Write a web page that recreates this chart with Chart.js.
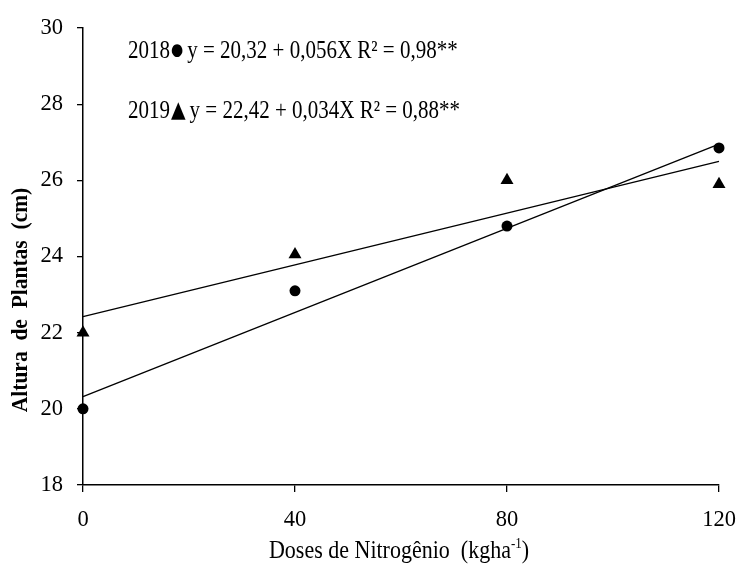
<!DOCTYPE html>
<html>
<head>
<meta charset="utf-8">
<script src="https://cdn.jsdelivr.net/npm/chart.js@4.4.1/dist/chart.umd.min.js"></script>
<style>
  html, body { margin: 0; padding: 0; background: #ffffff; }
  #wrap { width: 739px; height: 567px; position: relative; }
</style>
</head>
<body>
<div id="wrap"><canvas id="c" width="739" height="567"></canvas></div>
<script>
// ---- data ----
const doses = [0, 40, 80, 120];
const altura2018 = [20.0, 23.1, 24.8, 26.85];
const altura2019 = [22.0, 24.05, 26.0, 25.9];
const trendX = [0, 120];
const trend2018 = [20.32, 26.95];
const trend2019 = [22.42, 26.5];
const xTicks = [0, 40, 80, 120];
const yTicks = [18, 20, 22, 24, 26, 28, 30];
const eq2018 = { year: '2018', symbol: '●', text: 'y = 20,32 + 0,056X R² = 0,98**' };
const eq2019 = { year: '2019', symbol: '▲', text: 'y = 22,42 + 0,034X R² = 0,88**' };
const yTitle = 'Altura  de  Plantas  (cm)';
const xTitle = 'Doses de Nitrogênio  (kgha';
const xTitleSup = '-1';

const pts = (xs, ys) => xs.map((x, i) => ({ x: x, y: ys[i] }));
const SERIF = '"Liberation Serif", "Times New Roman", serif';

const textPlugin = {
  id: 'texts',
  afterDraw(chart) {
    const ctx = chart.ctx;
    ctx.save();
    ctx.fillStyle = '#000';
    // equations
    const drawEq = (eq, x, y) => {
      ctx.save();
      ctx.translate(x, y);
      ctx.scale(1, 1.2);
      ctx.font = '21px ' + SERIF;
      ctx.textBaseline = 'middle';
      ctx.textAlign = 'left';
      let cx = 0;
      ctx.fillText(eq.year, cx, 0);
      cx += ctx.measureText(eq.year).width + 1;
      ctx.font = (eq.symbol === '●' ? '14px ' : '19px ') + '"DejaVu Sans", sans-serif';
      ctx.fillText(eq.symbol, cx, 0);
      cx += ctx.measureText(eq.symbol).width + 4;
      ctx.font = '21px ' + SERIF;
      ctx.fillText(eq.text, cx, 0);
      ctx.restore();
    };
    drawEq(eq2018, 128, 51);
    drawEq(eq2019, 128, 111);

    // y title (rotated, bold)
    ctx.save();
    ctx.translate(21, 300);
    ctx.rotate(-Math.PI / 2);
    ctx.scale(1, 1.1);
    ctx.font = 'bold 21.5px ' + SERIF;
    ctx.textAlign = 'center';
    ctx.textBaseline = 'middle';
    ctx.fillText(yTitle, 0, 0);
    ctx.restore();

    // x title with superscript
    ctx.save();
    ctx.translate(0, 558);
    ctx.scale(1, 1.12);
    ctx.font = '22px ' + SERIF;
    ctx.textBaseline = 'alphabetic';
    ctx.textAlign = 'left';
    const w1 = ctx.measureText(xTitle).width;
    ctx.font = '13px ' + SERIF;
    const w2 = ctx.measureText(xTitleSup).width;
    ctx.font = '22px ' + SERIF;
    const w3 = ctx.measureText(')').width;
    const total = w1 + w2 + w3;
    let sx = 399 - total / 2;
    ctx.fillText(xTitle, sx, 0);
    ctx.font = '13px ' + SERIF;
    ctx.fillText(xTitleSup, sx + w1, -9);
    ctx.font = '22px ' + SERIF;
    ctx.fillText(')', sx + w1 + w2, 0);
    ctx.restore();
    ctx.restore();
  }
};

new Chart(document.getElementById('c'), {
  type: 'scatter',
  data: {
    datasets: [
      {
        label: '2018 ajuste',
        data: pts(trendX, trend2018),
        showLine: true,
        borderColor: '#000',
        borderWidth: 1.3,
        pointRadius: 0,
        fill: false,
        clip: false
      },
      {
        label: '2019 ajuste',
        data: pts(trendX, trend2019),
        showLine: true,
        borderColor: '#000',
        borderWidth: 1.3,
        pointRadius: 0,
        fill: false,
        clip: false
      },
      {
        label: '2018',
        data: pts(doses, altura2018),
        pointStyle: 'circle',
        pointRadius: 5.5,
        backgroundColor: '#000',
        borderColor: '#000',
        borderWidth: 0,
        showLine: false,
        clip: false
      },
      {
        label: '2019',
        data: pts(doses, altura2019),
        pointStyle: 'triangle',
        pointRadius: 7.5,
        backgroundColor: '#000',
        borderColor: '#000',
        borderWidth: 0,
        showLine: false,
        clip: false
      }
    ]
  },
  options: {
    responsive: false,
    animation: false,
    devicePixelRatio: 1,
    layout: { padding: { left: 0, top: 28, right: 20, bottom: 0 } },
    plugins: { legend: { display: false }, tooltip: { enabled: false }, title: { display: false } },
    scales: {
      x: {
        type: 'linear',
        min: 0, max: 120,
        afterBuildTicks(scale) { scale.ticks = xTicks.map(v => ({ value: v })); },
        afterFit(scale) { scale.height = 82; scale.paddingLeft = 0; scale.paddingRight = 0; },
        border: { display: true, color: '#000', width: 1.5 },
        grid: { display: true, drawOnChartArea: false, drawTicks: true, tickLength: 7, color: '#000', lineWidth: 1.3 },
        ticks: { color: '#000', font: { family: SERIF, size: 22.5 }, padding: 15, maxRotation: 0 }
      },
      y: {
        type: 'linear',
        min: 18, max: 30,
        afterBuildTicks(scale) { scale.ticks = yTicks.map(v => ({ value: v })); },
        afterFit(scale) { scale.width = 83; scale.paddingTop = 0; scale.paddingBottom = 0; },
        border: { display: true, color: '#000', width: 1.5 },
        grid: { display: true, drawOnChartArea: false, drawTicks: true, tickLength: 6, color: '#000', lineWidth: 1.3 },
        ticks: { color: '#000', font: { family: SERIF, size: 22.5 }, padding: 14 }
      }
    }
  },
  plugins: [textPlugin]
});
</script>
</body>
</html>
